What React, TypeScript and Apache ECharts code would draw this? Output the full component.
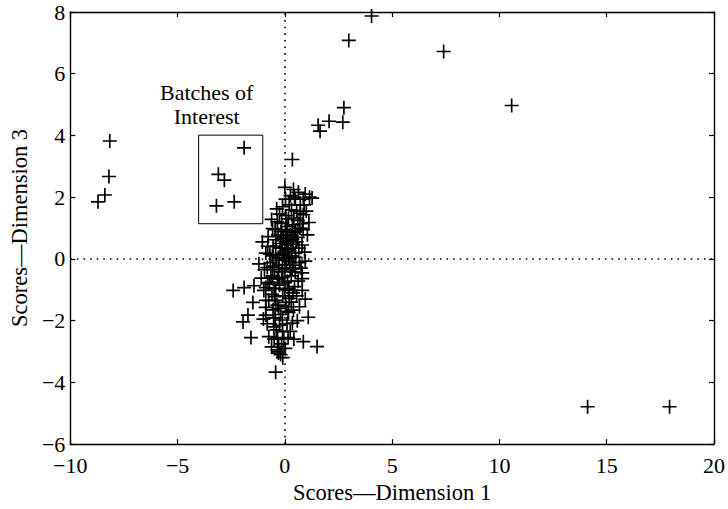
import React, { useEffect, useRef } from "react";
import * as echarts from "echarts";

// Axis ranges and tick steps
const X_MIN = -10;
const X_MAX = 20;
const X_STEP = 5;
const Y_MIN = -6;
const Y_MAX = 8;
const Y_STEP = 2;

const xAxisTitle = "Scores\u2014Dimension 1";
const yAxisTitle = "Scores\u2014Dimension 3";
const boxTitle = "Batches of\nInterest";

// Corners of the highlighted group of batches (Dimension 1, Dimension 3)
const boxCorners: [number, number][] = [
  [-4.02, 4.01],
  [-1.03, 1.14],
];

// Batches inside the highlighted box
const batchesOfInterest: [number, number][] = [
  [-1.9, 3.6],
  [-3.1, 2.74],
  [-2.82, 2.55],
  [-2.36, 1.85],
  [-3.19, 1.72],
];

// Far-out batches
const outlierScores: [number, number][] = [
  [4.04, 7.87],
  [2.98, 7.08],
  [7.4, 6.72],
  [10.57, 4.97],
  [2.75, 4.9],
  [2.7, 4.43],
  [2.06, 4.46],
  [1.55, 4.33],
  [1.64, 4.14],
  [0.35, 3.22],
  [14.11, -4.79],
  [17.93, -4.79],
  [-8.16, 3.82],
  [-8.2, 2.67],
  [-8.39, 2.07],
  [-8.71, 1.85],
];

// Batches in the main cluster around the origin
const clusterScores: [number, number][] = [
  [0.0, 2.32], [0.63, 2.16], [1.27, 1.97], [0.86, 1.94], [0.49, 1.94],
  [0.03, 1.94], [-0.11, 1.69], [0.72, 1.75], [0.86, 1.43], [0.31, 1.59],
  [0.17, 1.3], [0.81, 1.14], [-0.57, 0.98], [0.03, 0.95], [0.49, 0.89],
  [-0.11, 0.67], [0.35, 0.63], [-0.8, 0.41], [-0.43, 0.41], [0.17, 0.32],
  [-0.89, 0.19], [0.49, 0.19], [-0.29, 0.03], [0.03, 0.0], [0.95, -0.07],
  [-1.21, -0.16], [-0.57, -0.23], [-0.11, -0.29], [0.35, -0.32], [0.81, -0.45],
  [-0.57, -0.55], [-0.29, -0.64], [0.81, -0.64], [-0.89, -0.93], [-0.8, -0.77],
  [-2.41, -1.02], [-1.9, -0.93], [-1.44, -0.87], [-0.98, -1.02], [-0.43, -0.96],
  [0.17, -1.02], [0.81, -1.02], [-1.49, -1.41], [-0.89, -1.34], [-0.43, -1.34],
  [0.03, -1.41], [-0.89, -1.57], [-0.29, -1.6], [0.4, -1.66], [0.17, -1.73],
  [-1.72, -1.82], [-1.95, -2.04], [-0.89, -1.82], [-0.52, -1.92], [-0.11, -1.98],
  [1.09, -1.89], [0.35, -2.08], [-0.52, -2.2], [-1.58, -2.55], [-0.75, -2.52],
  [-0.34, -2.55], [-0.11, -2.36], [0.86, -2.68], [1.5, -2.84], [-0.29, -2.84],
  [-0.2, -3.1], [-0.29, -3.0], [-0.43, -3.67],
  [-0.35, 1.2], [0.1, 1.05], [0.42, 1.32], [0.25, 0.78], [-0.18, 0.88],
  [0.05, 0.55], [0.38, 0.48], [-0.42, 0.62], [0.15, 0.25], [-0.22, 0.35],
  [0.5, 0.05], [-0.05, 0.12], [0.22, -0.08], [-0.4, -0.05], [0.08, -0.18],
  [-0.15, -0.42], [0.3, -0.55], [-0.48, -0.35], [0.12, -0.72], [-0.25, -0.85],
  [0.45, -0.9], [-0.6, -1.15], [-0.1, -1.2], [0.2, -1.28], [-0.35, -1.5],
  [0.05, -1.55], [-0.55, -1.65], [0.3, -1.4], [-0.2, -1.8], [0.1, -2.1],
  [-0.4, -2.3], [-0.05, -2.6], [-0.15, -2.75], [-0.35, -2.95], [0.02, -2.9],
  [0.6, 0.7], [0.7, 1.0], [0.55, 1.55], [0.2, 1.75], [0.45, 2.0],
  [0.9, 1.75], [0.65, 0.35], [-0.7, 0.15], [-0.65, -0.6], [0.75, -0.3],
  [0.0, 0.35], [-0.3, 0.05], [0.32, 0.1], [-0.1, -0.6], [0.18, -0.95],
  [-0.5, -0.95], [0.55, -1.2], [-0.75, -1.35], [0.0, -1.0], [-0.28, -0.2],
  [0.4, -0.2], [0.28, 0.6], [-0.08, 0.72], [0.12, 0.9], [0.35, 1.1],
  [-0.25, 1.45], [0.05, 1.4], [0.6, 1.25], [0.1, 0.45], [-0.12, 0.18],
  [-0.55, 0.4], [0.25, -0.35], [-0.35, -0.65], [0.0, -0.3], [0.15, -1.7],
  [-0.45, -1.9], [-0.25, -2.15], [0.25, -2.35], [-0.5, -2.6], [-0.1, -3.2],
  [-0.3, -3.05], [0.45, 0.85], [-0.45, 0.95], [0.8, 0.45], [1.0, 1.55],
  [1.15, 2.0], [0.95, 2.1], [0.4, 2.25],
  [-0.62, 1.28], [-0.78, 0.72], [-0.95, -0.35], [-1.05, 0.55], [-0.68, -0.12],
  [0.68, -0.12], [0.92, 0.22], [1.05, 0.78], [0.72, 1.48], [1.12, 1.18],
  [-0.38, 1.62], [0.26, 2.05], [-0.72, -0.82], [-1.1, -0.62], [0.62, -0.72],
  [0.95, -1.3], [-0.15, 1.15], [0.55, 0.55], [-0.58, 0.1], [0.38, -1.1],
  [-0.82, -2.1], [-0.62, -2.85], [0.42, -2.6], [0.15, -2.55], [-0.48, -1.22],
  [0.68, -1.55], [0.58, -2.0], [-1.0, -1.95], [-0.2, 0.5], [0.18, 0.05],
  [-0.02, -0.78], [0.48, -0.42], [-0.82, -0.28], [-0.32, 0.78], [0.85, 0.95],
];

const FONT = "Liberation Serif";

// Plus-sign marker drawn as a filled cross
const PLUS = "path://M4.4,0h1.2v4.4h4.4v1.2h-4.4v4.4h-1.2v-4.4h-4.4v-1.2h4.4z";

const minusSign = (v: number) => String(v).replace("-", "\u2212");

export default function App() {
  const ref = useRef<HTMLDivElement>(null);

  useEffect(() => {
    if (!ref.current) return;
    const chart = echarts.init(ref.current, null, { renderer: "svg" });

    const axisLine = { show: true, onZero: false, lineStyle: { color: "#000", width: 1.4 } };
    const tick = { show: true, inside: true, length: 5, lineStyle: { color: "#000", width: 1.2 } };
    const tickLabel = { color: "#000", fontFamily: FONT, fontSize: 22, formatter: minusSign };

    chart.setOption({
      animation: false,
      backgroundColor: "#fff",
      textStyle: { fontFamily: FONT, color: "#000" },
      grid: { left: 62, top: 12, right: 14, bottom: 58, containLabel: false },
      xAxis: [
        {
          type: "value",
          position: "bottom",
          min: X_MIN,
          max: X_MAX,
          interval: X_STEP,
          axisLine,
          axisTick: tick,
          axisLabel: { ...tickLabel, margin: 10 },
          splitLine: { show: false },
          name: xAxisTitle,
          nameLocation: "middle",
          nameGap: 32,
          nameTextStyle: { color: "#000", fontFamily: FONT, fontSize: 22.5 },
        },
        {
          type: "value",
          position: "top",
          min: X_MIN,
          max: X_MAX,
          interval: X_STEP,
          axisLine,
          axisTick: tick,
          axisLabel: { show: false },
          splitLine: { show: false },
        },
      ],
      yAxis: [
        {
          type: "value",
          position: "left",
          min: Y_MIN,
          max: Y_MAX,
          interval: Y_STEP,
          axisLine,
          axisTick: tick,
          axisLabel: { ...tickLabel, margin: 5 },
          splitLine: { show: false },
          name: yAxisTitle,
          nameLocation: "middle",
          nameGap: 37,
          nameTextStyle: { color: "#000", fontFamily: FONT, fontSize: 22.5 },
        },
        {
          type: "value",
          position: "right",
          min: Y_MIN,
          max: Y_MAX,
          interval: Y_STEP,
          axisLine,
          axisTick: tick,
          axisLabel: { show: false },
          splitLine: { show: false },
        },
      ],
      series: [
        {
          type: "scatter",
          xAxisIndex: 0,
          yAxisIndex: 0,
          symbol: PLUS,
          symbolSize: 14,
          itemStyle: { color: "#000", opacity: 1 },
          data: [...clusterScores, ...outlierScores, ...batchesOfInterest],
          markLine: {
            silent: true,
            symbol: ["none", "none"],
            label: { show: false },
            lineStyle: { color: "#000", width: 1.6, type: [1.6, 5] },
            data: [{ xAxis: 0 }, { yAxis: 0 }],
          },
          markArea: {
            silent: true,
            itemStyle: { color: "rgba(0,0,0,0)", borderColor: "#000", borderWidth: 1 },
            label: {
              show: true,
              position: "top",
              formatter: boxTitle,
              offset: [-24, -1],
              color: "#000",
              fontFamily: FONT,
              fontSize: 22,
              lineHeight: 24,
              align: "center",
            },
            data: [[{ coord: boxCorners[0] }, { coord: boxCorners[1] }]],
          },
        },
      ],
    });

    return () => chart.dispose();
  }, []);

  return (
    <div
      ref={ref}
      style={{ position: "fixed", left: 0, top: 0, width: 728, height: 509, background: "#fff" }}
    />
  );
}
